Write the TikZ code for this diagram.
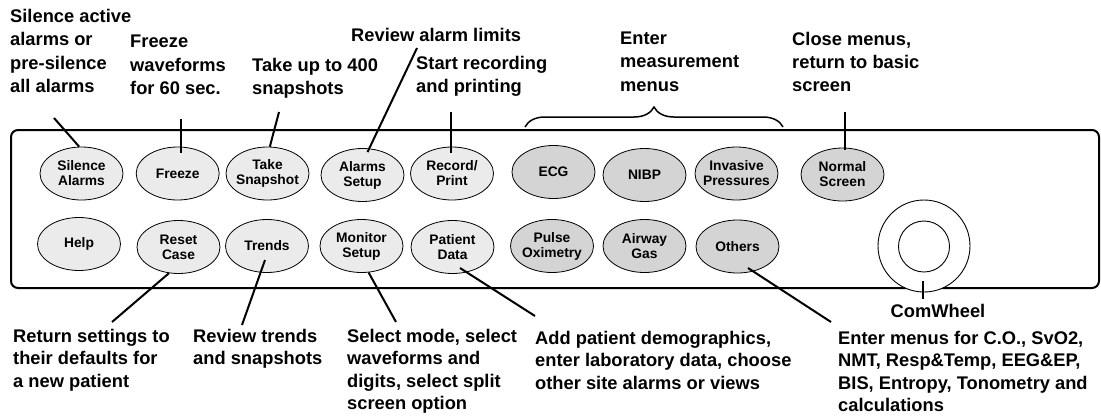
\documentclass[tikz,border=0pt]{standalone}
\usepackage{fontspec}
\setmainfont{Liberation Sans}
\usepackage{tikz}
\usetikzlibrary{shapes.geometric,calc,decorations.pathreplacing}

\begin{document}
\begin{tikzpicture}[x=1pt,y=-1pt,
    key/.style={draw, ellipse, fill=black!8, line width=0.8pt, minimum width=83pt, minimum height=53pt,
        inner xsep=-15pt, inner ysep=0pt, align=center, font=\fontsize{13.8}{15}\selectfont\bfseries},
    mkey/.style={key, fill=black!17},
    note/.style={anchor=north west, inner sep=0pt, align=left, font=\fontsize{18.3}{23.4}\selectfont\bfseries},
    lownote/.style={note, font=\fontsize{18.3}{22.5}\selectfont\bfseries},
    lead/.style={line width=2pt}]
    \useasboundingbox (0,0) rectangle (1101,416);
    % front panel
    \draw[line width=2pt, rounded corners=7pt] (11,130) rectangle (1099,288);

    % keys, upper row
    \node[key] (sil) at (81.5,173.5) {Silence\\Alarms};
    \node[key] (frz) at (177.7,173.5) {Freeze};
    \node[key] (snap) at (267.5,173.5) {Take\\Snapshot};
    \node[key] (alm) at (362.5,175) {Alarms\\Setup};
    \node[key] (rec) at (452,173.5) {Record/\\Print};
    \node[mkey] (ecg) at (553.5,172) {ECG};
    \node[mkey] (nibp) at (644.5,175) {NIBP};
    \node[mkey] (inv) at (736.5,173.5) {Invasive\\Pressures};
    \node[mkey] (norm) at (842.5,174.5) {Normal\\Screen};
    % keys, lower row
    \node[key] (help) at (79,244) {Help};
    \node[key] (reset) at (178.5,247) {Reset\\Case};
    \node[key] (trend) at (267,246) {Trends};
    \node[key] (mon) at (361.5,246) {Monitor\\Setup};
    \node[key] (pat) at (452.5,247) {Patient\\Data};
    \node[mkey] (spo) at (552,246) {Pulse\\Oximetry};
    \node[mkey] (gas) at (644.5,246) {Airway\\Gas};
    \node[mkey] (oth) at (737.5,246.5) {Others};

    % ComWheel
    \node[draw, circle, fill=white, line width=0.9pt, minimum size=92pt, inner sep=0pt] (wheel) at (924,246) {};
    \node[draw, circle, line width=0.9pt, minimum size=51pt, inner sep=0pt] (knob) at (924,246.5) {};
    \node[anchor=base, inner sep=0pt, font=\fontsize{18.3}{23.4}\selectfont\bfseries] (cw) at (938,317.3) {ComWheel};

    % texts above
    \node[note] (tsil) at (10,9) {Silence active\\alarms or\\pre-silence\\all alarms};
    \node[note] (tfrz) at (130,35) {Freeze\\waveforms\\for 60 sec.};
    \node[note] (tsnap) at (252,58) {Take up to 400\\snapshots};
    \node[note] (talm) at (351,28) {Review alarm limits};
    \node[note] (trec) at (416,56) {Start recording\\and printing};
    \node[note] (tmeas) at (620,31.6) {Enter\\measurement\\menus};
    \node[note] (tnorm) at (792,31.6) {Close menus,\\return to basic\\screen};
    % texts below
    \node[lownote] (treset) at (13,329) {Return settings to\\their defaults for\\a new patient};
    \node[lownote] (ttrend) at (193,329) {Review trends\\and snapshots};
    \node[lownote] (tmon) at (347,329) {Select mode, select\\waveforms and\\digits, select split\\screen option};
    \node[lownote] (tpat) at (535,331) {Add patient demographics,\\enter laboratory data, choose\\other site alarms or views};
    \node[lownote] (toth) at (838,331) {Enter menus for C.O., SvO2,\\NMT, Resp\&Temp, EEG\&EP,\\BIS, Entropy, Tonometry and\\calculations};

    % leader ends
    \coordinate (e1) at (54,118);
    \coordinate (e2) at (181,119);
    \coordinate (e3) at (279,112);
    \coordinate (e4) at (417,48);
    \coordinate (e5) at (450.7,112);
    \coordinate (e6) at (845,112);
    \coordinate (f1) at (112,322);
    \coordinate (f2) at (242,325);
    \coordinate (f3) at (396,322);
    \coordinate (f4) at (535,316);
    \coordinate (f5) at (831,322);
    \coordinate (f6) at (923,299);
    \draw[lead] (e1) -- (sil.95);
    \draw[lead] (e2) -- ($(e2 |- frz.north)+(0,6)$);
    \draw[lead] (e3) -- (snap.85);
    \draw[lead] (e4) -- ($(alm.north)+(5,4)$);
    \draw[lead] (e5) -- ($(e5 |- rec.north)+(0,6)$);
    \draw[lead] (e6) -- ($(e6 |- norm.north)+(0,2)$);
    \draw[lead] (reset.250) -- (f1);
    \draw[lead] ($(trend.center)+(-2,14)$) -- (f2);
    \draw[lead] (mon.285) -- (f3);
    \draw[lead] ($(pat.center)+(7.5,21)$) -- (f4);
    \draw[lead] ($(oth.center)+(10.5,21.5)$) -- (f5);
    \draw[lead] ($(wheel.center)+(-1,35)$) -- (f6);

    % brace over the measurement keys
    \coordinate (b1) at (525,127);
    \coordinate (b2) at (783,127);
    \draw[line width=1.5pt, decorate, decoration={brace, amplitude=20pt}] (b1) -- (b2);
\end{tikzpicture}
\end{document}
